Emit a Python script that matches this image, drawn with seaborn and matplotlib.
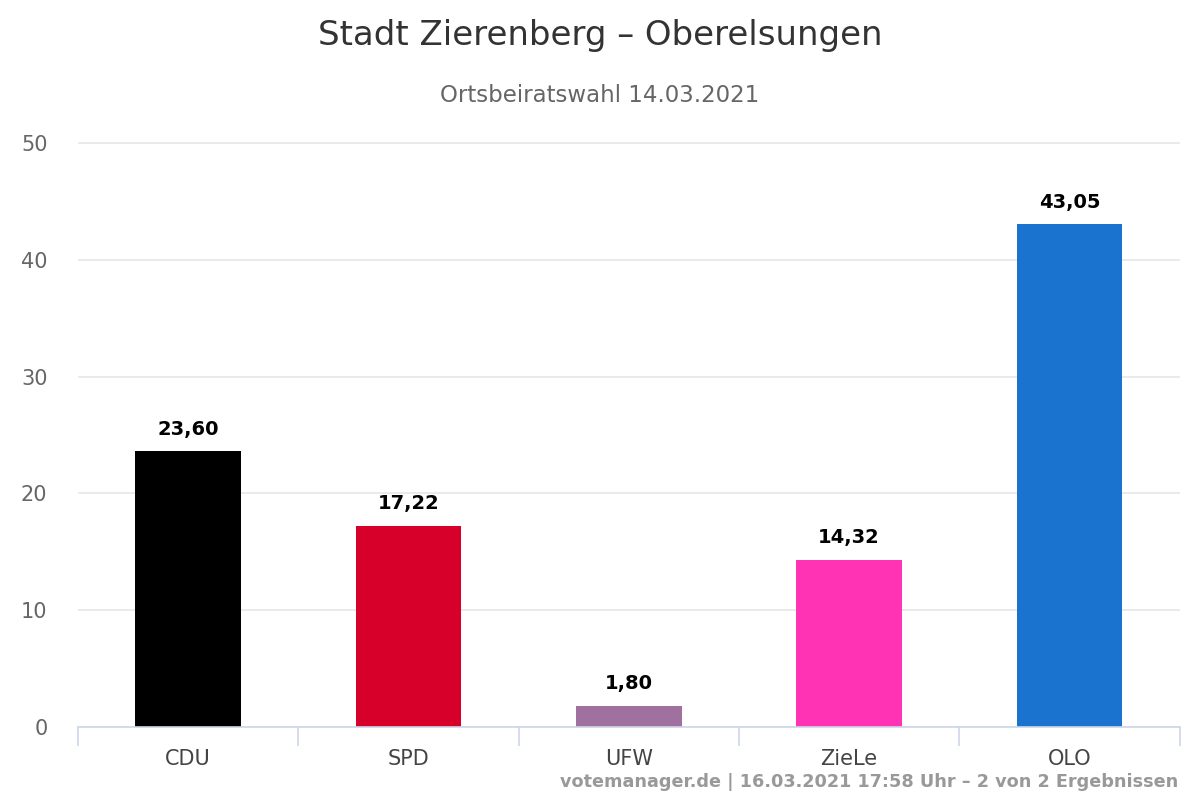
import matplotlib
matplotlib.use("Agg")
import matplotlib.pyplot as plt
import seaborn as sns
import pandas as pd
import numpy as np

parteien = ["CDU", "SPD", "UFW", "ZieLe", "OLO"]
stimmen = [23.60, 17.22, 1.80, 14.32, 43.05]
farben = ["#000000", "#d7002a", "#a0709f", "#ff33b3", "#1a73cf"]
y_ticks = [0, 10, 20, 30, 40, 50]

titel = "Stadt Zierenberg – Oberelsungen"
untertitel = "Ortsbeiratswahl 14.03.2021"
fusszeile = "votemanager.de | 16.03.2021 17:58 Uhr – 2 von 2 Ergebnissen"

df = pd.DataFrame({"Partei": parteien, "Prozent": stimmen})

sns.set_theme(style="white")
plt.rcParams["font.family"] = ["DejaVu Sans"]

fig = plt.figure(figsize=(12, 8), dpi=100)
ax = fig.add_axes([0.065, 0.09125, 0.918, 0.7315])

sns.barplot(data=df, x="Partei", y="Prozent", hue="Partei", palette=farben,
            legend=False, width=0.48, saturation=1, linewidth=0, ax=ax)

ax.set_xlim(-0.5, len(parteien) - 0.5)
ax.set_ylim(0, 50.1)
ax.set_yticks(y_ticks)
ax.set_xlabel("")
ax.set_ylabel("")
ax.grid(axis="y", color="#e6e6e6", linewidth=1.2)
ax.set_axisbelow(True)

for s in ["top", "right", "left"]:
    ax.spines[s].set_visible(False)
ax.spines["bottom"].set_color("#ccd6eb")
ax.spines["bottom"].set_linewidth(1.2)

ax.tick_params(axis="y", length=0, labelsize=15, labelcolor="#666666", pad=22)
ax.tick_params(axis="x", which="major", bottom=False, labelsize=15, labelcolor="#444444", pad=10)
ax.set_xticks(np.arange(-0.5, len(parteien)), minor=True)
ax.tick_params(axis="x", which="minor", bottom=True, length=14, color="#ccd6eb", width=1.2)

for c in ax.containers:
    ax.bar_label(c, labels=[f"{v:.2f}".replace(".", ",") for v in c.datavalues],
                 padding=9, fontsize=14, fontweight="bold", color="#000000")

fig.text(0.5, 0.955, titel, ha="center", va="center", fontsize=24.5, color="#333333")
fig.text(0.5, 0.88, untertitel, ha="center", va="center", fontsize=16.5, color="#666666")
fig.text(0.982, 0.022, fusszeile, ha="right", va="center", fontsize=12.7,
         fontweight="bold", color="#999999")

fig.savefig("out.png", dpi=100, facecolor="white")
